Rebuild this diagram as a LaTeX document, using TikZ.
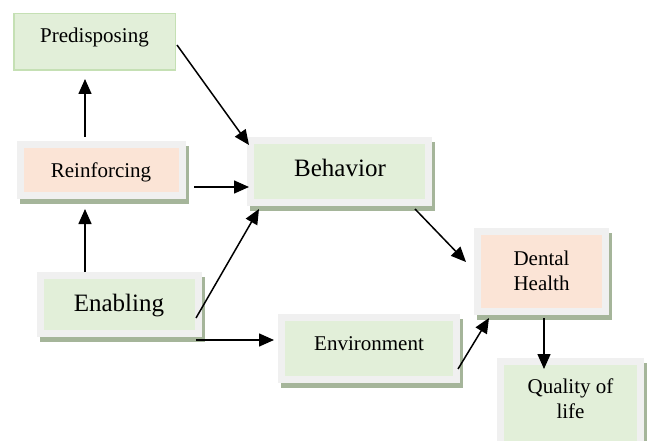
\documentclass[tikz,border=0pt]{standalone}
\usepackage{fontspec}
\setmainfont{Liberation Serif}
\usetikzlibrary{arrows.meta,calc,backgrounds}
\definecolor{greenF}{HTML}{E2EFD9}
\definecolor{peachF}{HTML}{FBE4D6}
\definecolor{frameC}{HTML}{F0F0F0}
\definecolor{shadowC}{HTML}{A5B59A}
\definecolor{predB}{HTML}{C5E0B4}
\tikzset{
  framed/.style={draw=frameC, line width=7pt, inner sep=0pt},
  gbox/.style={framed, fill=greenF},
  pbox/.style={framed, fill=peachF},
  lbl/.style={font=\fontsize{21}{25}\selectfont, inner sep=0pt, anchor=base, align=center},
  biglbl/.style={font=\fontsize{25}{29}\selectfont, inner sep=0pt, anchor=base},
  arr/.style={-{Triangle[length=15pt,width=13pt]}, line width=1.5pt, black},
}
\begin{document}
\begin{tikzpicture}[x=1pt,y=-1pt]
\clip (0,0) rectangle (648,441);
% boxes
\node[draw=predB, line width=1.5pt, fill=greenF, minimum width=161.5pt, minimum height=56.5pt, inner sep=0pt] (pred) at (94.5,42) {};
\node[pbox, minimum width=162pt, minimum height=51pt] (rein) at (101.5,170) {};
\node[gbox, minimum width=178pt, minimum height=62pt] (beh) at (339.5,171.5) {};
\node[pbox, minimum width=128pt, minimum height=80pt] (dent) at (541.5,271.5) {};
\node[gbox, minimum width=140pt, minimum height=90pt] (qual) at (570.5,406.5) {};
\node[gbox, minimum width=158pt, minimum height=58pt] (enab) at (119.5,304.5) {};
\node[gbox, minimum width=175pt, minimum height=62pt] (env) at (369,348.5) {};
% background and shadows
\begin{scope}[on background layer]
\fill[white] (0,0) rectangle (648,441);
\foreach \n in {rein,beh,dent,qual,enab,env}{
  \fill[shadowC] ($(\n.north west)+(3,5)$) rectangle ($(\n.south east)+(3,5)$);
}
\end{scope}
% texts
\node[lbl] (predT) at (94.5,43) {Predisposing};
\node[lbl] (reinT) at (101,177) {Reinforcing};
\node[biglbl] (behT) at (340,176) {Behavior};
\node[biglbl] (enabT) at (119,311) {Enabling};
\node[lbl] (envT) at (369,350) {Environment};
\node[lbl] (dentT) at (541.5,290) {Dental\\Health};
\node[lbl] (qualT) at (570.5,418) {Quality of\\life};
% connectors
\draw[arr] ($(rein.north west)+(68,-4)$) -- ($(pred.south west)+(72,8)$);
\draw[arr] ($(enab.north west)+(48,0)$) -- ($(rein.south west)+(68,10)$);
\draw[arr] ($(pred.north east)+(1,32)$) -- ($(beh.north west)+(2,8)$);
\draw[arr] ($(rein.south east)+(8,-12)$) -- ($(beh.south west)+(2,-19)$);
\draw[arr] ($(enab.north east)+(-6,46)$) -- ($(beh.south west)+(12,3)$);
\draw[arr] ($(enab.south east)+(-6,3)$) -- ($(env.north west)+(-4,26)$);
\draw[arr] ($(beh.south east)+(-17,3)$) -- ($(dent.north west)+(-8,34)$);
\draw[arr] ($(env.north east)+(-2,55)$) -- ($(dent.south west)+(15,3)$);
\draw[arr] ($(dent.south)+(2.5,3)$) -- ($(qual.north)+(-26.5,11)$);
\end{tikzpicture}
\end{document}
